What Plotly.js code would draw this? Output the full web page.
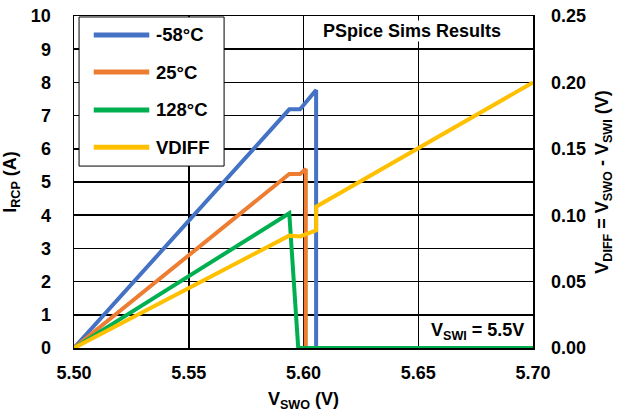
<!DOCTYPE html>
<html><head><meta charset="utf-8">
<script src="https://cdn.plot.ly/plotly-3.0.1.min.js"></script>
<style>html,body{margin:0;padding:0;background:#fff}#chart{width:618px;height:414px}</style>
</head><body><div id="chart"></div>
<script>
var seriesNames = ['-58°C', '25°C', '128°C', 'VDIFF'];
var seriesColors = ['#4472C4', '#ED7D31', '#00B050', '#FFC000'];
var x_m58 = [5.50, 5.5938, 5.5985, 5.6055, 5.6055, 5.70];
var y_m58 = [0, 7.19, 7.19, 7.77, 0, 0];
var x_25 = [5.50, 5.5938, 5.5985, 5.601, 5.601, 5.70];
var y_25 = [0, 5.24, 5.24, 5.39, 0, 0];
var x_128 = [5.50, 5.5938, 5.5977, 5.70];
var y_128 = [0, 4.06, 0, 0];
var x_vd = [5.50, 5.5938, 5.5985, 5.6055, 5.6055, 5.70];
var y_vd = [0, 0.0846, 0.0840, 0.0885, 0.1064, 0.20];
var xTicks = [5.50, 5.55, 5.60, 5.65, 5.70];
var yTicks = [0,1,2,3,4,5,6,7,8,9,10];
var y2Ticks = [0, 0.05, 0.10, 0.15, 0.20, 0.25];

var F = 'Arial, "Liberation Sans", sans-serif';
function tr(x, y, i, axis){
  return {x:x, y:y, name:seriesNames[i], type:'scatter', mode:'lines', yaxis:axis,
    showlegend:false, line:{color:seriesColors[i], width:4}};
}
var data = [
  tr(x_m58, y_m58, 0, 'y'),
  tr(x_25, y_25, 1, 'y'),
  tr(x_128, y_128, 2, 'y'),
  tr(x_vd, y_vd, 3, 'y2')
];

// custom legend (box, line samples, labels)
var shapes = [{type:'rect', xref:'paper', yref:'paper', x0:0.011, x1:0.327, y0:0.548, y1:0.997,
  fillcolor:'#fff', line:{color:'#000', width:1}, layer:'above'}];
var annotations = [];
var legY = [0.943, 0.831, 0.717, 0.605];
for (var i = 0; i < seriesNames.length; i++) {
  shapes.push({type:'line', xref:'paper', yref:'paper', x0:0.043, x1:0.164, y0:legY[i], y1:legY[i],
    line:{color:seriesColors[i], width:5}, layer:'above'});
  annotations.push({xref:'paper', yref:'paper', x:0.174, y:legY[i], xanchor:'left', yanchor:'middle',
    text:seriesNames[i], showarrow:false, font:{family:F, size:18.5, weight:'bold'}});
}
annotations.push({xref:'paper', yref:'paper', x:0.736, y:0.955, xanchor:'center', yanchor:'middle',
  text:'PSpice Sims Results', showarrow:false, bgcolor:'#fff', borderpad:0,
  font:{family:F, size:18, weight:'bold'}});
annotations.push({xref:'paper', yref:'paper', x:0.88, y:0.051, xanchor:'center', yanchor:'middle',
  text:'V<sub>SWI</sub> = 5.5V', showarrow:false, bgcolor:'#fff', borderpad:0,
  font:{family:F, size:18, weight:'bold'}});

var layout = {
  width:618, height:414,
  margin:{l:74, r:85, t:16, b:66},
  paper_bgcolor:'#fff', plot_bgcolor:'#fff',
  font:{family:F, size:18, color:'#000', weight:'bold'},
  showlegend:false,
  xaxis:{range:[5.50,5.70], tickvals:xTicks, tickformat:'.2f', showgrid:true,
    gridcolor:'#000', gridwidth:1.5, showline:true, linecolor:'#000', linewidth:1.5,
    mirror:true, ticks:'', zeroline:false, ticklabelstandoff:8,
    tickfont:{family:F, size:18, weight:'bold'},
    title:{text:'V<sub>SWO</sub> (V)', font:{family:F, size:18, weight:'bold'}, standoff:10}},
  yaxis:{range:[0,10], tickvals:yTicks, showgrid:true, gridcolor:'#000', gridwidth:1.5,
    showline:true, linecolor:'#000', linewidth:1.5, mirror:true, ticks:'',
    zeroline:false, ticklabelstandoff:18,
    tickfont:{family:F, size:18, weight:'bold'},
    title:{text:'I<sub>RCP</sub> (A)', font:{family:F, size:18, weight:'bold'}, standoff:10}},
  yaxis2:{range:[0,0.25], tickvals:y2Ticks, tickformat:'.2f', overlaying:'y', side:'right',
    showgrid:false, zeroline:false, ticks:'', ticklabelstandoff:17,
    tickfont:{family:F, size:18, weight:'bold'},
    title:{text:'V<sub>DIFF</sub> = V<sub>SWO</sub> - V<sub>SWI</sub> (V)', font:{family:F, size:18, weight:'bold'}, standoff:10}},
  shapes:shapes,
  annotations:annotations
};
Plotly.newPlot('chart', data, layout, {displayModeBar:false, staticPlot:true});
</script></body></html>
